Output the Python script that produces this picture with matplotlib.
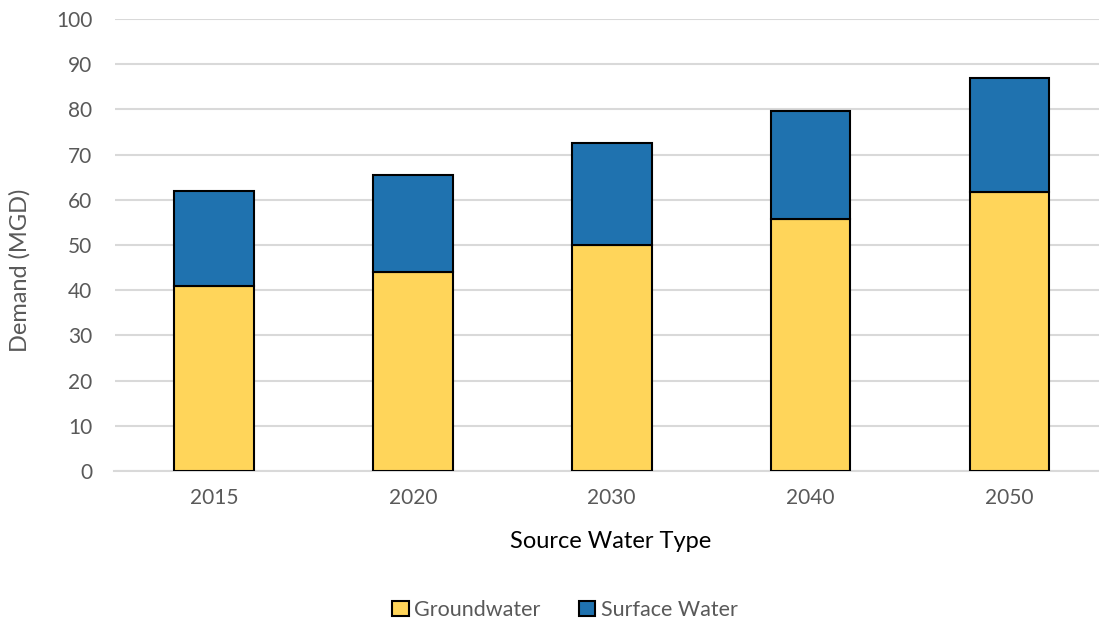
import numpy as np
import matplotlib.pyplot as plt

years = ['2015', '2020', '2030', '2040', '2050']
groundwater = [41, 44, 49.9, 55.8, 61.8]
surface_water = [21, 21.5, 22.7, 23.8, 25.1]

plt.rcParams['font.family'] = ['Lato', 'DejaVu Sans']
text_color = '#595959'

fig = plt.figure(figsize=(10.99, 6.24), dpi=100)
ax = fig.add_axes([114.5 / 1099, 1 - 471 / 624, (1109 - 114.5) / 1099, (471 - 19) / 624])

x = np.arange(len(years))
ax.bar(x, groundwater, width=0.4, color='#FFD55A', edgecolor='black', linewidth=1.5,
       label='Groundwater', zorder=3)
ax.bar(x, surface_water, width=0.4, bottom=groundwater, color='#1F72AF', edgecolor='black',
       linewidth=1.5, label='Surface Water', zorder=3)

ax.set_xlim(-0.5, len(years) - 0.5)
ax.set_ylim(0, 100)
ax.set_yticks(range(0, 101, 10))
ax.set_xticks(x)
ax.set_xticklabels(years)
ax.tick_params(length=0, labelsize=15, colors=text_color)
ax.tick_params(axis='y', pad=16)
ax.tick_params(axis='x', pad=12)
ax.yaxis.grid(True, color='#D9D9D9', linewidth=1.5, zorder=0)
for s in ['top', 'right', 'left']:
    ax.spines[s].set_visible(False)
ax.spines['bottom'].set_color('#D9D9D9')
ax.spines['bottom'].set_linewidth(1.5)

# axis titles
fig.text(20 / 1099, 1 - 270 / 624, 'Demand (MGD)', fontsize=17, color=text_color,
         rotation=90, ha='center', va='center')
fig.text(611 / 1099, 1 - 541 / 624, 'Source Water Type', fontsize=17, color='black',
         ha='center', va='center')

handles, labels = ax.get_legend_handles_labels()
fig.legend(handles, labels, loc='center', bbox_to_anchor=(565 / 1099, 1 - 610 / 624), ncol=2,
           frameon=False, fontsize=15.5, handlelength=0.75, handleheight=0.75, handletextpad=0.25,
           columnspacing=1.8, labelcolor=text_color)

fig.savefig('out.png', dpi=100)
